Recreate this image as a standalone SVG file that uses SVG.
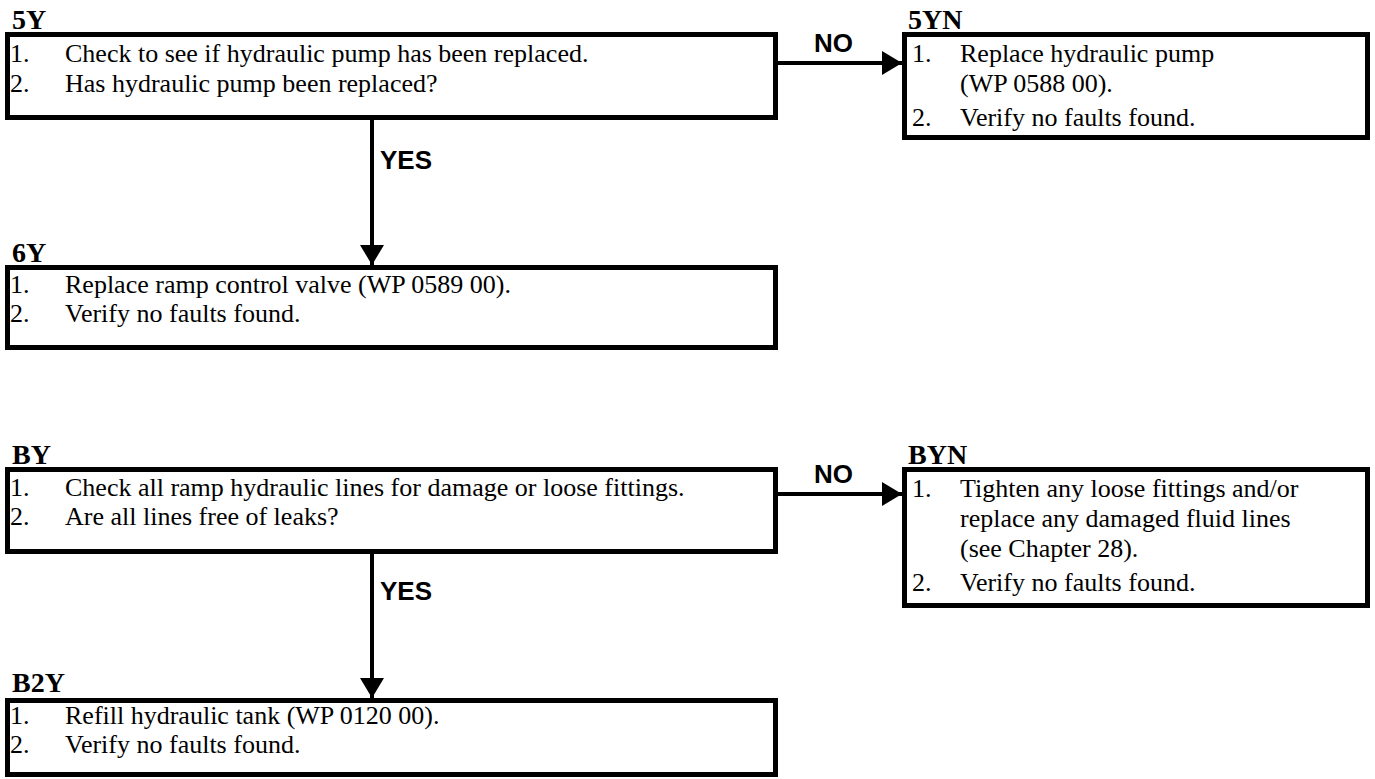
<svg xmlns="http://www.w3.org/2000/svg" width="1375" height="779" viewBox="0 0 1375 779">
<defs>
<marker id="ah" markerUnits="userSpaceOnUse" markerWidth="22" markerHeight="26" refX="20" refY="12" orient="auto">
<path d="M0,0 L20,12 L0,24 Z" fill="#000"/>
</marker>
<style>
.box{fill:#fff;stroke:#000;stroke-width:5}
.lbl{font-family:"Liberation Serif","Times New Roman",serif;font-weight:bold;font-size:28px;fill:#000}
.t{font-family:"Liberation Serif","Times New Roman",serif;font-size:26px;fill:#000}
.c{font-family:"Liberation Sans",Arial,sans-serif;font-weight:bold;font-size:26px;fill:#000}
.ln{stroke:#000;stroke-width:4;fill:none}
</style>
</defs>
<rect width="1375" height="779" fill="#fff"/>
<g id="connectors">
<line class="ln" x1="778" y1="63" x2="902" y2="63" marker-end="url(#ah)"/>
<text class="c" x="814" y="52">NO</text>
<line class="ln" x1="372" y1="120" x2="372" y2="265" marker-end="url(#ah)"/>
<text class="c" x="380" y="169">YES</text>
<line class="ln" x1="778" y1="494" x2="902" y2="494" marker-end="url(#ah)"/>
<text class="c" x="814" y="483">NO</text>
<line class="ln" x1="372" y1="552" x2="372" y2="698" marker-end="url(#ah)"/>
<text class="c" x="380" y="600">YES</text>
</g>
<g id="n5Y">
<text class="lbl" x="12" y="29">5Y</text>
<rect class="box" x="7.5" y="34.5" width="768" height="83"/>
<text class="t" x="10" y="62">1.</text><text class="t" x="65" y="62">Check to see if hydraulic pump has been replaced.</text>
<text class="t" x="10" y="92">2.</text><text class="t" x="65" y="92">Has hydraulic pump been replaced?</text>
</g>
<g id="n5YN">
<text class="lbl" x="908" y="29">5YN</text>
<rect class="box" x="904.5" y="34.5" width="463" height="103"/>
<text class="t" x="912" y="62">1.</text><text class="t" x="960" y="62">Replace hydraulic pump</text>
<text class="t" x="960" y="92">(WP 0588 00).</text>
<text class="t" x="912" y="126">2.</text><text class="t" x="960" y="126">Verify no faults found.</text>
</g>
<g id="n6Y">
<text class="lbl" x="12" y="262">6Y</text>
<rect class="box" x="7.5" y="267.5" width="768" height="80"/>
<text class="t" x="10" y="293">1.</text><text class="t" x="65" y="293">Replace ramp control valve (WP 0589 00).</text>
<text class="t" x="10" y="322">2.</text><text class="t" x="65" y="322">Verify no faults found.</text>
</g>
<g id="nBY">
<text class="lbl" x="12" y="464">BY</text>
<rect class="box" x="7.5" y="469.5" width="768" height="82"/>
<text class="t" x="10" y="496">1.</text><text class="t" x="65" y="496">Check all ramp hydraulic lines for damage or loose fittings.</text>
<text class="t" x="10" y="525">2.</text><text class="t" x="65" y="525">Are all lines free of leaks?</text>
</g>
<g id="nBYN">
<text class="lbl" x="908" y="464">BYN</text>
<rect class="box" x="904.5" y="469.5" width="463" height="136"/>
<text class="t" x="912" y="497">1.</text><text class="t" x="960" y="497">Tighten any loose fittings and/or</text>
<text class="t" x="960" y="527">replace any damaged fluid lines</text>
<text class="t" x="960" y="557">(see Chapter 28).</text>
<text class="t" x="912" y="591">2.</text><text class="t" x="960" y="591">Verify no faults found.</text>
</g>
<g id="nB2Y">
<text class="lbl" x="12" y="692">B2Y</text>
<rect class="box" x="7.5" y="700.5" width="768" height="74"/>
<text class="t" x="10" y="724">1.</text><text class="t" x="65" y="724">Refill hydraulic tank (WP 0120 00).</text>
<text class="t" x="10" y="753">2.</text><text class="t" x="65" y="753">Verify no faults found.</text>
</g>
</svg>
